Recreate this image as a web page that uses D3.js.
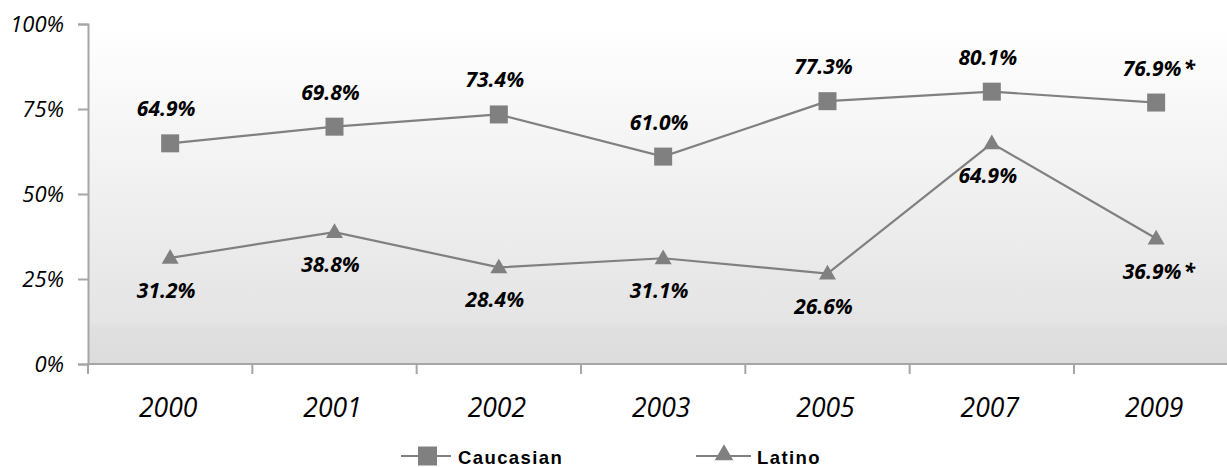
<!DOCTYPE html>
<html>
<head>
<meta charset="utf-8">
<script src="https://cdn.jsdelivr.net/npm/d3@7"></script>
<style>
  html, body { margin: 0; padding: 0; background: #ffffff; }
  svg { display: block; }
</style>
</head>
<body>
<div id="chart"></div>
<script>
// ---- data ----
const categories = ["2000", "2001", "2002", "2003", "2005", "2007", "2009"];
const caucasian = [64.9, 69.8, 73.4, 61.0, 77.3, 80.1, 76.9];
const latino = [31.2, 38.8, 28.4, 31.1, 26.6, 64.9, 36.9];
const caucasianNotes = ["", "", "", "", "", "", "*"];
const latinoNotes = ["", "", "", "", "", "", "*"];
const yTicks = [0, 25, 50, 75, 100];
const seriesNames = ["Caucasian", "Latino"];

// ---- layout ----
const W = 1227, H = 467;
const plotLeft = 88, plotTop = 24, plotBottom = 364;
const bandW = 164.33;
const plotRight = plotLeft + bandW * categories.length;
const gray = "#808080";
const axisColor = "#a6a6a6";
const font = "'Open Sans', 'DejaVu Sans', sans-serif";

const svg = d3.select("#chart").append("svg")
  .attr("width", W).attr("height", H);

const defs = svg.append("defs");
const grad = defs.append("linearGradient").attr("id", "bg")
  .attr("x1", 0).attr("y1", 0).attr("x2", 0).attr("y2", 1);
grad.append("stop").attr("offset", "0%").attr("stop-color", "#ffffff");
grad.append("stop").attr("offset", "88%").attr("stop-color", "#e4e4e4");
grad.append("stop").attr("offset", "89%").attr("stop-color", "#e0e0e0");
grad.append("stop").attr("offset", "100%").attr("stop-color", "#dcdcdc");

const x = d3.scaleBand().domain(categories).range([plotLeft, plotRight]);
const y = d3.scaleLinear().domain([0, 100]).range([plotBottom, plotTop]);
const cx = c => x(c) + x.bandwidth() / 2;

// plot background
svg.append("rect")
  .attr("x", plotLeft).attr("y", y(100))
  .attr("width", plotRight - plotLeft).attr("height", y(0) - y(100))
  .attr("fill", "url(#bg)");

// y axis
const yAxis = d3.axisLeft(y).tickValues(yTicks).tickSize(10).tickFormat(d => d + "%");
const gy = svg.append("g").attr("transform", `translate(${plotLeft},0)`).call(yAxis);
gy.select(".domain").attr("stroke", axisColor).attr("stroke-width", 2);
gy.selectAll(".tick line").attr("stroke", axisColor).attr("stroke-width", 2);
gy.selectAll(".tick text")
  .attr("x", -24).attr("dy", "0.36em")
  .attr("font-family", font).attr("font-style", "italic")
  .attr("font-size", 22).attr("fill", "#000");

// x axis (ticks between categories)
const xBounds = d3.range(categories.length + 1).map(i => plotLeft + i * bandW);
const gx = svg.append("g");
gx.append("line")
  .attr("x1", plotLeft - 1).attr("x2", plotRight)
  .attr("y1", plotBottom).attr("y2", plotBottom)
  .attr("stroke", axisColor).attr("stroke-width", 2);
gx.selectAll("line.tk").data(xBounds).join("line").attr("class", "tk")
  .attr("x1", d => d).attr("x2", d => d)
  .attr("y1", plotBottom).attr("y2", plotBottom + 10)
  .attr("stroke", axisColor).attr("stroke-width", 2);
gx.selectAll("text").data(categories).join("text")
  .attr("x", d => cx(d) - 2).attr("y", 417)
  .attr("text-anchor", "middle")
  .attr("font-family", font).attr("font-style", "italic")
  .attr("font-size", 26.5).attr("fill", "#000")
  .text(d => d);

// lines
const line = d3.line().x(d => cx(d.c)).y(d => y(d.v));
const cData = categories.map((c, i) => ({ c, v: caucasian[i], n: caucasianNotes[i] }));
const lData = categories.map((c, i) => ({ c, v: latino[i], n: latinoNotes[i] }));

svg.append("path").datum(cData).attr("d", line)
  .attr("fill", "none").attr("stroke", gray).attr("stroke-width", 2.2);
svg.append("path").datum(lData).attr("d", line)
  .attr("fill", "none").attr("stroke", gray).attr("stroke-width", 2.2);

// markers
const sq = 18;
svg.selectAll("rect.m").data(cData).join("rect").attr("class", "m")
  .attr("x", d => cx(d.c) - sq / 2).attr("y", d => y(d.v) - sq / 2)
  .attr("width", sq).attr("height", sq).attr("fill", gray);

const tri = d3.symbol().type(d3.symbolTriangle).size(125);
svg.selectAll("path.t").data(lData).join("path").attr("class", "t")
  .attr("d", tri)
  .attr("transform", d => `translate(${cx(d.c)},${y(d.v) + 1})`)
  .attr("fill", gray);

// data labels
function addLabels(data, dy) {
  const g = svg.append("g");
  data.forEach(d => {
    const t = g.append("text")
      .attr("x", cx(d.c) - 4).attr("y", y(d.v) + dy)
      .attr("text-anchor", "middle")
      .attr("font-family", font).attr("font-style", "italic").attr("font-weight", 700)
      .attr("font-size", 21).attr("fill", "#000")
      .text(d3.format(".1f")(d.v) + "%");
    if (d.n) {
      const w = t.node().getComputedTextLength();
      g.append("text")
        .attr("x", cx(d.c) - 4 + w / 2 + 2).attr("y", y(d.v) + dy)
        .attr("font-family", font).attr("font-style", "italic").attr("font-weight", 700)
        .attr("font-size", 21).attr("fill", "#000")
        .text(d.n);
    }
  });
}
addLabels(cData, -27);
addLabels(lData, 40);

// legend
const lg = svg.append("g");
const legendY = 456;
// Caucasian
lg.append("line").attr("x1", 401).attr("x2", 451).attr("y1", legendY).attr("y2", legendY)
  .attr("stroke", gray).attr("stroke-width", 2.2);
lg.append("rect").attr("x", 418).attr("y", legendY - 9.5).attr("width", 19).attr("height", 19)
  .attr("fill", gray);
lg.append("text").attr("x", 458).attr("y", 463.5)
  .attr("font-family", "'Liberation Sans', Arial, sans-serif").attr("font-weight", 700)
  .attr("font-size", 18.5).attr("letter-spacing", 1.4).attr("fill", "#000")
  .text(seriesNames[0]);
// Latino
lg.append("line").attr("x1", 696).attr("x2", 751).attr("y1", legendY).attr("y2", legendY)
  .attr("stroke", gray).attr("stroke-width", 2.2);
lg.append("path").attr("d", d3.symbol().type(d3.symbolTriangle).size(150))
  .attr("transform", `translate(724,${legendY - 1})`).attr("fill", gray);
lg.append("text").attr("x", 757).attr("y", 463.5)
  .attr("font-family", "'Liberation Sans', Arial, sans-serif").attr("font-weight", 700)
  .attr("font-size", 18.5).attr("letter-spacing", 1.4).attr("fill", "#000")
  .text(seriesNames[1]);
</script>
</body>
</html>
